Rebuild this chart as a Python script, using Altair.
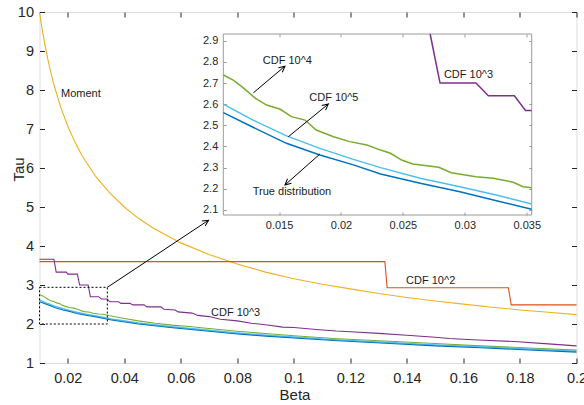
import altair as alt
import pandas as pd

# ---------------- data ----------------
beta_moment = [0.010, 0.011, 0.012, 0.013, 0.014, 0.015, 0.0175, 0.020, 0.0225, 0.025, 0.030,
               0.035, 0.040, 0.045, 0.050, 0.060, 0.070, 0.080, 0.090, 0.100, 0.110, 0.120,
               0.130, 0.140, 0.150, 0.160, 0.170, 0.180, 0.190, 0.200]
tau_moment = [10.0, 9.53, 9.13, 8.77, 8.45, 8.16, 7.56, 7.07, 6.67, 6.32, 5.77,
              5.35, 5.0, 4.71, 4.47, 4.08, 3.78, 3.54, 3.33, 3.16, 3.02, 2.90,
              2.78, 2.68, 2.59, 2.51, 2.43, 2.36, 2.30, 2.24]

beta_c2 = [0.010, 0.1322, 0.1330, 0.1759, 0.1769, 0.200]
tau_c2 = [3.60, 3.60, 2.93, 2.93, 2.49, 2.49]

beta_c3 = [0.0100, 0.0151, 0.0159, 0.0195, 0.0200, 0.0234, 0.0242, 0.0272, 0.0280, 0.0309,
           0.0319, 0.0340, 0.0349, 0.0354, 0.0380, 0.0388, 0.0420, 0.0430, 0.0470, 0.0480,
           0.0530, 0.0540, 0.0580, 0.0590, 0.0640, 0.0660, 0.0700, 0.0740, 0.0800, 0.0850,
           0.0900, 0.0960, 0.1000, 0.1080, 0.1150, 0.1200, 0.1300, 0.1400, 0.1500, 0.1550,
           0.1650, 0.1780, 0.1900, 0.2000]
tau_c3 = [3.66, 3.66, 3.33, 3.33, 3.28, 3.28, 3.00, 3.00, 2.70, 2.70,
          2.64, 2.64, 2.57, 2.57, 2.57, 2.53, 2.53, 2.49, 2.49, 2.44,
          2.44, 2.38, 2.36, 2.31, 2.28, 2.22, 2.19, 2.12, 2.08, 2.02,
          1.98, 1.92, 1.91, 1.86, 1.82, 1.80, 1.76, 1.71, 1.66, 1.63,
          1.59, 1.55, 1.49, 1.44]

beta_c4 = [0.010, 0.0105, 0.0113, 0.0120, 0.0131, 0.0140, 0.0151, 0.0160, 0.0171, 0.0180,
           0.0194, 0.0207, 0.0221, 0.0232, 0.0240, 0.0249, 0.0258, 0.0279, 0.0289, 0.0309,
           0.0323, 0.0339, 0.0347, 0.0354, 0.040, 0.045, 0.051, 0.057, 0.063, 0.069,
           0.080, 0.090, 0.100, 0.114, 0.132, 0.150, 0.166, 0.183, 0.200]
tau_c4 = [2.76, 2.738, 2.714, 2.683, 2.628, 2.596, 2.576, 2.541, 2.525, 2.478,
          2.446, 2.423, 2.407, 2.383, 2.368, 2.336, 2.317, 2.302, 2.276, 2.257,
          2.250, 2.231, 2.210, 2.205, 2.14, 2.08, 2.02, 1.97, 1.935, 1.89,
          1.815, 1.755, 1.70, 1.63, 1.565, 1.50, 1.44, 1.385, 1.33]

beta_c5 = [0.010, 0.0105, 0.0129, 0.0156, 0.0183, 0.0210, 0.0232, 0.0264, 0.0296, 0.0328,
           0.0354, 0.045, 0.057, 0.069, 0.080, 0.090, 0.100, 0.114, 0.134, 0.150,
           0.166, 0.183, 0.200]
tau_c5 = [2.62, 2.60, 2.525, 2.45, 2.391, 2.339, 2.30, 2.25, 2.21, 2.167,
          2.128, 2.025, 1.93, 1.845, 1.77, 1.715, 1.665, 1.60, 1.525, 1.465,
          1.415, 1.36, 1.30]

beta_true = [0.010, 0.0105, 0.0129, 0.0156, 0.0183, 0.0210, 0.0232, 0.0264, 0.0296, 0.0328,
             0.0354, 0.045, 0.057, 0.069, 0.080, 0.090, 0.100, 0.114, 0.134, 0.150,
             0.166, 0.183, 0.200]
tau_true = [2.58, 2.56, 2.491, 2.415, 2.36, 2.313, 2.27, 2.226, 2.186, 2.14,
            2.103, 2.0, 1.905, 1.82, 1.745, 1.69, 1.64, 1.575, 1.50, 1.44,
            1.39, 1.335, 1.28]

# axis limits and ticks
main_x = [0.01, 0.2]
main_y = [1, 10]
main_xticks = [0.02, 0.04, 0.06, 0.08, 0.1, 0.12, 0.14, 0.16, 0.18, 0.2]
main_yticks = [1, 2, 3, 4, 5, 6, 7, 8, 9, 10]
inset_x = [0.0105, 0.0354]
inset_y = [2.076, 2.932]
inset_xticks = [0.015, 0.02, 0.025, 0.03, 0.035]
inset_yticks = [2.1, 2.2, 2.3, 2.4, 2.5, 2.6, 2.7, 2.8, 2.9]

# zoom box drawn on the main axes
zoom_box = {"x0": [0.01], "x1": [0.034], "y0": [2.0], "y1": [2.94]}

# annotations
main_labels = ["Moment", "CDF 10^3", "CDF 10^2"]
main_label_x = [0.0176, 0.0707, 0.1397]
main_label_y = [7.9, 2.27, 3.10]

inset_labels = ["CDF 10^4", "CDF 10^5", "True distribution", "CDF 10^3"]
inset_label_x = [0.01369, 0.01744, 0.01288, 0.02831]
inset_label_y = [2.804, 2.631, 2.186, 2.738]

main_arrow = {"x0": [0.034], "y0": [2.94], "x1": [0.0698], "y1": [4.66], "ang": [56.3]}
inset_arrows = {"x0": [0.01293, 0.01575, 0.01831], "y0": [2.654, 2.446, 2.365],
                "x1": [0.01548, 0.01898, 0.01548], "y1": [2.780, 2.601, 2.218],
                "ang": [49.9, 50.7, 228.5]}

# ---------------- styling ----------------
FONT = "Liberation Sans"
AX = "#262626"
INSET_AX = "#9a9a9a"
W, H = 537, 351
C_TRUE, C_C2, C_MOM, C_C3, C_C4, C_C5 = "#0072BD", "#D95319", "#EDB120", "#7E2F8E", "#77AC30", "#4DBEEE"
HEAD = "M -0.5 1 L 0 0 L 0.5 1"


def xs_main():
    return alt.Scale(domain=main_x, nice=False, zero=False)


def ys_main():
    return alt.Scale(domain=main_y, nice=False, zero=False)


def xs_in():
    return alt.Scale(domain=inset_x, range=[183.8, 492.2], nice=False, zero=False)


def ys_in(clamp=False):
    return alt.Scale(domain=inset_y, range=[203, 22], nice=False, zero=False, clamp=clamp)


common_ax = dict(domain=False, grid=False, labelFlush=False, labelOverlap=False, zindex=1,
                 labelFont=FONT, labelColor=AX, titleFont=FONT, titleColor=AX,
                 titleFontWeight="normal")

ax_bottom = alt.Axis(orient="bottom", offset=-5, tickSize=5, tickColor=AX, values=main_xticks,
                     format="~r", labelFontSize=14.5, labelPadding=8, title="Beta",
                     titleFontSize=15, titleX=255, titleY=41, titleAlign="center",
                     titleBaseline="alphabetic", **common_ax)
ax_left = alt.Axis(orient="left", offset=-5, tickSize=5, tickColor=AX, values=main_yticks,
                   format="~r", labelFontSize=14.5, labelPadding=6, title="Tau",
                   titleFontSize=15, titleX=-26.5, titleY=157, titleAngle=270,
                   titleAlign="center", titleBaseline="middle", **common_ax)
ax_top = alt.Axis(orient="top", offset=-5, tickSize=5, tickColor=AX, values=main_xticks,
                  labels=False, title=None, **common_ax)
ax_right = alt.Axis(orient="right", offset=-5, tickSize=5, tickColor=AX, values=main_yticks,
                    labels=False, title=None, **common_ax)

ax_in_left = alt.Axis(orient="left", offset=-186.8, tickSize=3, tickColor=INSET_AX,
                      values=inset_yticks, format="~r", labelFontSize=11, labelPadding=5.5,
                      title=None, **common_ax)
ax_in_bottom = alt.Axis(orient="bottom", offset=-151, tickSize=3, tickColor=INSET_AX,
                        values=inset_xticks, format="~r", labelFontSize=11, labelPadding=4,
                        title=None, **common_ax)
ax_in_top = alt.Axis(orient="top", offset=-25, tickSize=3, tickColor=INSET_AX,
                     values=inset_xticks, labels=False, title=None, **common_ax)
ax_in_right = alt.Axis(orient="right", offset=-47.8, tickSize=3, tickColor=INSET_AX,
                       values=inset_yticks, labels=False, title=None, **common_ax)


def df(bx, ty):
    return pd.DataFrame({"beta": bx, "tau": ty})


def main_line(bx, ty, color, width=1.1, xaxis=None, yaxis=None):
    return alt.Chart(df(bx, ty)).mark_line(color=color, strokeWidth=width).encode(
        x=alt.X("beta:Q", scale=xs_main(), axis=xaxis),
        y=alt.Y("tau:Q", scale=ys_main(), axis=yaxis),
    )


def inset_line(bx, ty, color, lo, clamp=False, xaxis=None, yaxis=None):
    return alt.Chart(df(bx, ty)).mark_line(color=color, strokeWidth=1.5).transform_filter(
        alt.FieldRangePredicate(field="beta", range=[lo, inset_x[1]])
    ).encode(
        x=alt.X("beta:Q", scale=xs_in(), axis=xaxis),
        y=alt.Y("tau:Q", scale=ys_in(clamp), axis=yaxis),
    )


layers = []
# main plot
layers.append(main_line(beta_moment, tau_moment, C_MOM, xaxis=ax_bottom, yaxis=ax_left))
layers.append(main_line(beta_c2, tau_c2, C_C2, xaxis=ax_top, yaxis=ax_right))
layers.append(main_line(beta_c3, tau_c3, C_C3))
layers.append(main_line(beta_c4, tau_c4, C_C4))
layers.append(main_line(beta_c5, tau_c5, C_C5, width=1.4))
layers.append(main_line(beta_true, tau_true, C_TRUE, width=1.1))

layers.append(alt.Chart(pd.DataFrame(zoom_box)).mark_rect(
    fillOpacity=0, stroke="black", strokeWidth=1, strokeDash=[2, 2]).encode(
    x=alt.X("x0:Q", scale=xs_main(), axis=None), x2="x1:Q",
    y=alt.Y("y0:Q", scale=ys_main(), axis=None), y2="y1:Q"))

layers.append(alt.Chart(pd.DataFrame(main_arrow)).mark_rule(color="black", strokeWidth=1).encode(
    x=alt.X("x0:Q", scale=xs_main(), axis=None), x2="x1:Q",
    y=alt.Y("y0:Q", scale=ys_main(), axis=None), y2="y1:Q"))
layers.append(alt.Chart(pd.DataFrame(main_arrow)).mark_point(
    shape=HEAD, filled=False, size=144, color="black", strokeWidth=1, opacity=1).encode(
    x=alt.X("x1:Q", scale=xs_main(), axis=None),
    y=alt.Y("y1:Q", scale=ys_main(), axis=None),
    angle=alt.Angle("ang:Q", scale=None)))

layers.append(alt.Chart(pd.DataFrame({"t": main_labels, "x": main_label_x, "y": main_label_y})).mark_text(
    font=FONT, fontSize=11, color="#1a1a1a", align="left", baseline="middle").encode(
    x=alt.X("x:Q", scale=xs_main(), axis=None),
    y=alt.Y("y:Q", scale=ys_main(), axis=None), text="t:N"))

# inset
layers.append(alt.Chart(pd.DataFrame({"x0": [inset_x[0]], "x1": [inset_x[1]],
                                      "y0": [inset_y[0]], "y1": [inset_y[1]]})).mark_rect(
    fill="white", stroke=INSET_AX, strokeWidth=1).encode(
    x=alt.X("x0:Q", scale=xs_in(), axis=ax_in_bottom), x2="x1:Q",
    y=alt.Y("y0:Q", scale=ys_in(), axis=ax_in_left), y2="y1:Q"))

layers.append(inset_line(beta_c3, tau_c3, C_C3, 0.0272, clamp=True, xaxis=ax_in_top, yaxis=ax_in_right))
layers.append(inset_line(beta_c4, tau_c4, C_C4, inset_x[0]))
layers.append(inset_line(beta_c5, tau_c5, C_C5, inset_x[0]))
layers.append(inset_line(beta_true, tau_true, C_TRUE, inset_x[0]))

layers.append(alt.Chart(pd.DataFrame(inset_arrows)).mark_rule(color="black", strokeWidth=1).encode(
    x=alt.X("x0:Q", scale=xs_in(), axis=None), x2="x1:Q",
    y=alt.Y("y0:Q", scale=ys_in(), axis=None), y2="y1:Q"))
layers.append(alt.Chart(pd.DataFrame(inset_arrows)).mark_point(
    shape=HEAD, filled=False, size=144, color="black", strokeWidth=1, opacity=1).encode(
    x=alt.X("x1:Q", scale=xs_in(), axis=None),
    y=alt.Y("y1:Q", scale=ys_in(), axis=None),
    angle=alt.Angle("ang:Q", scale=None)))
layers.append(alt.Chart(pd.DataFrame({"t": inset_labels, "x": inset_label_x, "y": inset_label_y})).mark_text(
    font=FONT, fontSize=11, color="#1a1a1a", align="left", baseline="middle").encode(
    x=alt.X("x:Q", scale=xs_in(), axis=None),
    y=alt.Y("y:Q", scale=ys_in(), axis=None), text="t:N"))

chart = alt.layer(*layers).resolve_scale(x="independent", y="independent").properties(
    width=W, height=H,
    padding={"left": 39.5, "top": 12, "right": 584 - 39.5 - W, "bottom": 405 - 12 - H},
    autosize=alt.AutoSizeParams(type="none"),
).configure_view(stroke=AX, strokeWidth=1).configure(background="white")

chart.save("out.html", embed_options={"renderer": "svg", "actions": False})
